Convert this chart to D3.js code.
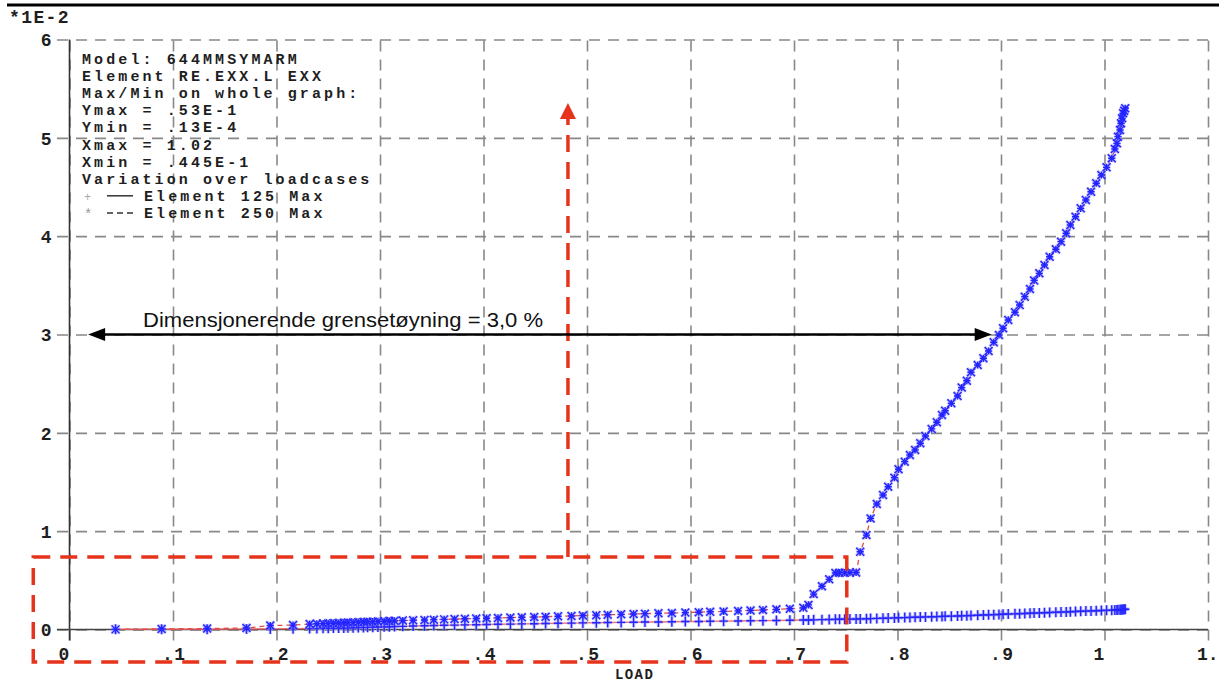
<!DOCTYPE html>
<html>
<head>
<meta charset="utf-8">
<script src="https://cdn.jsdelivr.net/npm/d3@7"></script>
<style>
  html, body { margin: 0; padding: 0; background: #fff; }
  svg { display: block; }
  .mono { font-family: "Liberation Mono", "DejaVu Sans Mono", monospace; font-size: 15px; letter-spacing: 3.1px; fill: #1e1e1e; font-weight: bold; }
  .mono-lg { font-family: "Liberation Mono", "DejaVu Sans Mono", monospace; font-size: 18px; letter-spacing: 1.4px; fill: #1e1e1e; font-weight: bold; }
</style>
</head>
<body>
<svg id="chart" width="1219" height="684"></svg>
<script>
// Load factor for each load case
const loads = [
  0.0445, 0.089, 0.133, 0.171, 0.194, 0.216, 0.232, 0.239, 0.245, 0.250,
  0.255, 0.260, 0.265, 0.269, 0.274, 0.279, 0.284, 0.288, 0.293, 0.298,
  0.304, 0.309, 0.314, 0.322, 0.332, 0.343, 0.352, 0.362, 0.372, 0.382,
  0.393, 0.403, 0.414, 0.426, 0.437, 0.449, 0.460, 0.472, 0.485, 0.496,
  0.509, 0.520, 0.533, 0.545, 0.556, 0.569, 0.582, 0.595, 0.608, 0.619,
  0.632, 0.646, 0.658, 0.670, 0.683, 0.696, 0.709, 0.714, 0.719, 0.727,
  0.734, 0.740, 0.744, 0.749, 0.754, 0.760, 0.764, 0.770, 0.774, 0.780,
  0.786, 0.791, 0.797, 0.801, 0.807, 0.812, 0.817, 0.822, 0.827, 0.833,
  0.838, 0.843, 0.846, 0.852, 0.858, 0.862, 0.867, 0.871, 0.8775, 0.883,
  0.888, 0.893, 0.898, 0.902, 0.907, 0.9135, 0.918, 0.923, 0.928, 0.932,
  0.937, 0.942, 0.947, 0.953, 0.958, 0.963, 0.967, 0.972, 0.977, 0.982,
  0.987, 0.992, 0.997, 1.002, 1.007, 1.010, 1.012, 1.013, 1.015, 1.016,
  1.017, 1.018, 1.019, 1.020
];

// EXX strain, element 125 (units of 1E-2)
const elem125 = [
  0.0013, 0.002, 0.003, 0.004, 0.006, 0.008, 0.010, 0.011, 0.012, 0.013,
  0.014, 0.015, 0.016, 0.017, 0.018, 0.020, 0.021, 0.022, 0.024, 0.025,
  0.027, 0.028, 0.030, 0.032, 0.035, 0.038, 0.040, 0.043, 0.045, 0.047,
  0.049, 0.051, 0.053, 0.055, 0.057, 0.059, 0.061, 0.063, 0.065, 0.067,
  0.069, 0.071, 0.072, 0.074, 0.076, 0.077, 0.079, 0.081, 0.082, 0.084,
  0.085, 0.087, 0.089, 0.090, 0.092, 0.094, 0.096, 0.097, 0.098, 0.100,
  0.101, 0.103, 0.104, 0.105, 0.106, 0.107, 0.108, 0.110, 0.111, 0.113,
  0.115, 0.116, 0.118, 0.120, 0.121, 0.123, 0.125, 0.126, 0.128, 0.130,
  0.131, 0.133, 0.134, 0.136, 0.138, 0.139, 0.141, 0.143, 0.145, 0.147,
  0.149, 0.151, 0.153, 0.155, 0.157, 0.159, 0.161, 0.163, 0.165, 0.167,
  0.169, 0.171, 0.173, 0.175, 0.177, 0.179, 0.181, 0.183, 0.185, 0.187,
  0.189, 0.191, 0.193, 0.195, 0.197, 0.198, 0.199, 0.200, 0.201, 0.202,
  0.203, 0.204, 0.205, 0.206
];

// EXX strain, element 250 (units of 1E-2)
const elem250 = [
  0.0013, 0.006, 0.010, 0.015, 0.040, 0.045, 0.055, 0.058, 0.060, 0.062,
  0.064, 0.066, 0.068, 0.070, 0.072, 0.074, 0.076, 0.078, 0.080, 0.082,
  0.084, 0.086, 0.088, 0.091, 0.094, 0.097, 0.100, 0.103, 0.106, 0.109,
  0.112, 0.115, 0.118, 0.121, 0.124, 0.127, 0.130, 0.134, 0.138, 0.142,
  0.146, 0.150, 0.154, 0.158, 0.161, 0.165, 0.168, 0.172, 0.176, 0.180,
  0.184, 0.189, 0.194, 0.199, 0.205, 0.211, 0.220, 0.250, 0.360, 0.440,
  0.510, 0.575, 0.578, 0.578, 0.579, 0.580, 0.790, 0.960, 1.130, 1.276,
  1.368, 1.452, 1.544, 1.629, 1.707, 1.775, 1.826, 1.894, 1.968, 2.040,
  2.107, 2.181, 2.225, 2.300, 2.375, 2.460, 2.530, 2.616, 2.690, 2.758,
  2.832, 2.921, 2.995, 3.063, 3.148, 3.226, 3.300, 3.385, 3.463, 3.550,
  3.622, 3.707, 3.791, 3.867, 3.944, 4.029, 4.114, 4.198, 4.283, 4.368,
  4.452, 4.538, 4.622, 4.700, 4.792, 4.887, 4.944, 5.012, 5.080, 5.148,
  5.199, 5.250, 5.275, 5.300
];

const xTickValues = [0, 0.1, 0.2, 0.3, 0.4, 0.5, 0.6, 0.7, 0.8, 0.9, 1.0, 1.1];
const xTickLabels = ["0", ".1", ".2", ".3", ".4", ".5", ".6", ".7", ".8", ".9", "1", "1."];
const yTickValues = [0, 1, 2, 3, 4, 5, 6];
const yTickLabels = ["0", "1", "2", "3", "4", "5", "6"];

const infoLines = [
  "Model: 644MMSYMARM",
  "Element RE.EXX.L EXX",
  "Max/Min on whole graph:",
  "Ymax = .53E-1",
  "Ymin = .13E-4",
  "Xmax = 1.02",
  "Xmin = .445E-1",
  "Variation over loadcases"
];
const seriesNames = ["Element 125 Max", "Element 250 Max"];

const limitStrain = 3.0;       // design limit strain, 1E-2 units
const limitLabel = "Dimensjonerende grensetøyning = 3,0 %";
const focusLoad = 0.4816;      // load marked by the vertical arrow
const zoomBox = { x0: -0.035, x1: 0.751, y0: -0.33, y1: 0.737 };

const svg = d3.select("#chart");
const x = d3.scaleLinear().domain([0, 1.1]).range([69.5, 1208]);
const y = d3.scaleLinear().domain([0, 6]).range([629.5, 39.5]);

// frame rule across the top
svg.append("line").attr("x1", 7).attr("x2", 1219).attr("y1", 5).attr("y2", 5)
  .attr("stroke", "#000").attr("stroke-width", 3);

svg.append("text").attr("class", "mono-lg").attr("x", 9).attr("y", 23).text("*1E-2");

// x axis with dashed grid lines running up through the plot
const below = 11;
const xAxis = d3.axisBottom(x).tickValues(xTickValues)
  .tickFormat((d, i) => xTickLabels[i])
  .tickSize(-(y(0) + below - y(6))).tickPadding(7);
const gx = svg.append("g").attr("transform", `translate(0,${y(0) + below})`).call(xAxis);
gx.select(".domain").remove();
gx.selectAll(".tick line").attr("stroke", "#888").attr("stroke-width", 1.6).attr("stroke-dasharray", "11 8");
gx.selectAll(".tick text").attr("class", "mono-lg").attr("text-anchor", "start").attr("x", -11.5);
gx.selectAll(".tick text").filter((d, i) => i === xTickValues.length - 1).style("letter-spacing", "0px");

// y axis with dashed horizontal grid lines
const yAxis = d3.axisLeft(y).tickValues(yTickValues)
  .tickFormat((d, i) => yTickLabels[i])
  .tickSize(-(x(1.1) - 57)).tickPadding(4);
const gy = svg.append("g").attr("transform", "translate(57,0)").call(yAxis);
gy.select(".domain").remove();
gy.selectAll(".tick line").attr("stroke", "#888").attr("stroke-width", 1.6).attr("stroke-dasharray", "11 8");
gy.selectAll(".tick text").attr("class", "mono-lg").attr("dy", "0.36em");

// solid zero lines
svg.append("line").attr("x1", x(0)).attr("x2", x(0)).attr("y1", y(6)).attr("y2", y(0) + below)
  .attr("stroke", "#333").attr("stroke-width", 1.6);
svg.append("line").attr("x1", 57).attr("x2", x(1.1)).attr("y1", y(0)).attr("y2", y(0))
  .attr("stroke", "#444").attr("stroke-width", 1.6);

svg.append("text").attr("class", "mono").attr("x", 615).attr("y", 679)
  .style("font-size", "14px").style("letter-spacing", "1.4px").text("LOAD");

// info block
const info = svg.append("g");
infoLines.forEach((t, i) => {
  info.append("text").attr("class", "mono").attr("x", 82).attr("y", 64 + i * 17.1).text(t);
});
const legY = [64 + 8 * 17.1, 64 + 9 * 17.1];
info.append("text").attr("x", 84).attr("y", legY[0]).attr("fill", "#aaa")
  .style("font-family", "Liberation Mono").style("font-size", "12px").text("+");
info.append("text").attr("x", 84).attr("y", legY[1] + 1).attr("fill", "#999")
  .style("font-family", "Liberation Mono").style("font-size", "14px").text("*");
info.append("line").attr("x1", 107).attr("x2", 133).attr("y1", legY[0] - 5).attr("y2", legY[0] - 5)
  .attr("stroke", "#333").attr("stroke-width", 1.5);
info.append("line").attr("x1", 107).attr("x2", 133).attr("y1", legY[1] - 5).attr("y2", legY[1] - 5)
  .attr("stroke", "#333").attr("stroke-width", 1.5).attr("stroke-dasharray", "6 4");
seriesNames.forEach((t, i) => {
  info.append("text").attr("class", "mono").attr("x", 144).attr("y", legY[i]).text(t);
});

// series lines
const pts125 = loads.map((l, i) => [l, elem125[i]]);
const pts250 = loads.map((l, i) => [l, elem250[i]]);
const line = d3.line().x(d => x(d[0])).y(d => y(d[1]));

svg.append("path").datum(pts125).attr("d", line).attr("fill", "none")
  .attr("stroke", "#e85a5a").attr("stroke-width", 1.4).attr("stroke-opacity", 0.85);
svg.append("path").datum(pts250).attr("d", line).attr("fill", "none")
  .attr("stroke", "#e64a4a").attr("stroke-width", 1.3).attr("stroke-dasharray", "5 4");

// markers
const plusPath = "M0,-5V5M-4.2,0H4.2";
const starPath = "M-4,-4L4,4M-4,4L4,-4M0,-3.6V3.6M-3.6,0H3.6";
function drawMarkers(pts, path) {
  const g = svg.append("g");
  g.selectAll("path.halo").data(pts).join("path").attr("class", "halo")
    .attr("transform", d => `translate(${x(d[0])},${y(d[1])})`).attr("d", path)
    .attr("fill", "none").attr("stroke", "#9d9dff").attr("stroke-width", 3.4).attr("stroke-opacity", 0.55);
  g.selectAll("path.core").data(pts).join("path").attr("class", "core")
    .attr("transform", d => `translate(${x(d[0])},${y(d[1])})`).attr("d", path)
    .attr("fill", "none").attr("stroke", "#2424ff").attr("stroke-width", 1.4);
}
drawMarkers(pts125, plusPath);
drawMarkers(pts250, starPath);

// red dashed zoom box and arrow
const red = "#e6331b";
svg.append("rect")
  .attr("x", x(zoomBox.x0)).attr("y", y(zoomBox.y1))
  .attr("width", x(zoomBox.x1) - x(zoomBox.x0)).attr("height", y(zoomBox.y0) - y(zoomBox.y1))
  .attr("fill", "none").attr("stroke", red).attr("stroke-width", 3.5).attr("stroke-dasharray", "17 10");
const arrowTop = 103;
svg.append("line").attr("x1", x(focusLoad)).attr("x2", x(focusLoad))
  .attr("y1", y(zoomBox.y1)).attr("y2", arrowTop + 14)
  .attr("stroke", red).attr("stroke-width", 3.5).attr("stroke-dasharray", "17 10");
svg.append("path")
  .attr("d", `M${x(focusLoad)},${arrowTop}L${x(focusLoad) - 8},${arrowTop + 16}L${x(focusLoad) + 8},${arrowTop + 16}Z`)
  .attr("fill", red);

// black double-headed arrow at the limit strain
const ay = y(limitStrain);
const ax0 = x(0.018), ax1 = x(0.891);
svg.append("line").attr("x1", ax0 + 10).attr("x2", ax1 - 10).attr("y1", ay).attr("y2", ay)
  .attr("stroke", "#000").attr("stroke-width", 2.6);
svg.append("path").attr("d", `M${ax0},${ay}L${ax0 + 17},${ay - 6.5}L${ax0 + 17},${ay + 6.5}Z`).attr("fill", "#000");
svg.append("path").attr("d", `M${ax1},${ay}L${ax1 - 17},${ay - 6.5}L${ax1 - 17},${ay + 6.5}Z`).attr("fill", "#000");
svg.append("text").attr("x", 143).attr("y", 327)
  .attr("textLength", 400).attr("lengthAdjust", "spacingAndGlyphs")
  .style("font-family", "Liberation Sans, Arial, sans-serif").style("font-size", "20px")
  .attr("fill", "#111").text(limitLabel);
</script>
</body>
</html>
